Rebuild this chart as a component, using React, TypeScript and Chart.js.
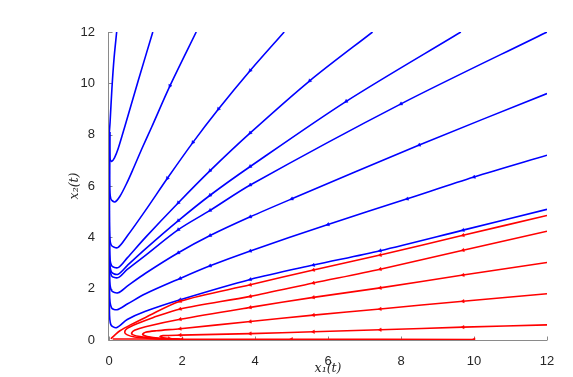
import React, { useEffect, useRef } from "react";
import { Chart, registerables } from "chart.js";

Chart.register(...registerables);

type Pt = [number, number];

// ---- tick labels / axis titles ----
const xTicks = [0, 2, 4, 6, 8, 10, 12];
const yTicks = [0, 2, 4, 6, 8, 10, 12];
const xLabel = "x₁(t)";
const yLabel = "x₂(t)";

// ---- blue trajectories (x1, x2) ----
const blue1: Pt[] = [[0.01, 8.1], [0.03, 8.5], [0.08, 9.8], [0.14, 11.0], [0.21, 12]];
const blue2: Pt[] = [[0.01, 8.1], [0.012, 7.6], [0.03, 7.05], [0.07, 6.96], [0.15, 7.1], [0.25, 7.45], [0.44, 8.35], [0.8, 10.1], [1.2, 12]];
const blue3: Pt[] = [[0.01, 8.1], [0.012, 6.2], [0.05, 5.5], [0.16, 5.38], [0.3, 5.6], [0.5, 6.15], [0.67, 6.69], [0.9, 7.45], [1.17, 8.3], [1.67, 9.9], [2.39, 12]];
const blue4: Pt[] = [[0.01, 8.1], [0.012, 4.3], [0.06, 3.7], [0.24, 3.6], [0.5, 4.05], [1.0, 5.05], [1.6, 6.3], [2.3, 7.7], [3.0, 9.0], [3.87, 10.5], [4.8, 12]];
const blue5: Pt[] = [[0.01, 8.1], [0.012, 3.5], [0.07, 2.9], [0.25, 2.82], [0.5, 3.2], [1.0, 4.0], [1.9, 5.35], [2.77, 6.6], [3.87, 8.07], [5.5, 10.1], [7.22, 12]];
const blue6: Pt[] = [[0.01, 8.1], [0.012, 3.2], [0.07, 2.64], [0.25, 2.56], [0.5, 2.9], [1.0, 3.55], [1.9, 4.65], [2.77, 5.64], [3.87, 6.76], [6.5, 9.3], [9.64, 12]];
const blue7: Pt[] = [[0.01, 8.1], [0.012, 3.1], [0.07, 2.5], [0.25, 2.43], [0.5, 2.75], [1.0, 3.3], [1.9, 4.3], [2.77, 5.05], [3.87, 6.04], [8.0, 9.2], [12, 12]];
const blue8: Pt[] = [[0.01, 8.1], [0.012, 2.5], [0.07, 1.92], [0.25, 1.84], [0.5, 2.1], [1.0, 2.6], [1.9, 3.4], [2.77, 4.07], [3.87, 4.8], [5.01, 5.5], [8.5, 7.6], [12, 9.6]];
const blue9: Pt[] = [[0.01, 8.1], [0.012, 1.8], [0.07, 1.25], [0.22, 1.18], [0.5, 1.4], [1.0, 1.8], [1.95, 2.4], [2.77, 2.89], [3.87, 3.47], [6.0, 4.5], [8.17, 5.5], [10.0, 6.35], [12, 7.2]];
const blue10: Pt[] = [[0.01, 8.1], [0.012, 1.2], [0.05, 0.6], [0.2, 0.48], [0.5, 0.8], [1.0, 1.12], [1.95, 1.57], [3.87, 2.36], [5.6, 2.92], [7.43, 3.48], [9.7, 4.28], [12, 5.09]];

// ---- red trajectories (x1, x2) ----
const red1: Pt[] = [[2.0, 0.02], [1.65, 0.06], [1.45, 0.1], [1.4, 0.14], [1.48, 0.17], [1.95, 0.19], [3.87, 0.25], [5.6, 0.32], [7.43, 0.4], [9.7, 0.5], [12, 0.59]];
const red2: Pt[] = [[1.95, 0.03], [1.4, 0.07], [1.05, 0.14], [0.92, 0.22], [1.0, 0.3], [1.3, 0.36], [1.95, 0.44], [3.87, 0.72], [5.6, 0.97], [7.43, 1.21], [9.7, 1.51], [12, 1.8]];
const red3: Pt[] = [[1.95, 0.03], [1.3, 0.07], [0.85, 0.13], [0.66, 0.2], [0.62, 0.27], [0.7, 0.38], [1.0, 0.52], [1.95, 0.81], [3.87, 1.27], [5.6, 1.66], [7.43, 2.03], [9.7, 2.53], [12, 3.02]];
const red4: Pt[] = [[1.9, 0.03], [1.2, 0.06], [0.7, 0.12], [0.5, 0.2], [0.43, 0.3], [0.5, 0.45], [0.8, 0.65], [1.2, 0.87], [1.95, 1.21], [3.87, 1.7], [5.6, 2.22], [7.43, 2.76], [9.7, 3.5], [12, 4.24]];
const red5: Pt[] = [[0.05, 0.05], [0.15, 0.18], [0.3, 0.36], [0.6, 0.6], [1.0, 0.88], [1.95, 1.51], [3.87, 2.15], [5.6, 2.73], [7.43, 3.31], [9.7, 4.08], [12, 4.85]];
const red6: Pt[] = [[0.1, 0.04], [1.0, 0.04], [2.0, 0.03], [5.0, 0.03], [10.0, 0.02]];

const blueCurves = [blue1, blue2, blue3, blue4, blue5, blue6, blue7, blue8, blue9, blue10];
const redCurves = [red1, red2, red3, red4, red5, red6];

const BLUE = "#0000ff";
const RED = "#ff0000";
const AXIS = "#8a8a8a";
const TEXT = "#262626";

const axesPlugin = {
  id: "matlabAxes",
  beforeDatasetsDraw(chart: any) {
    const { ctx, chartArea: a, scales } = chart;
    const xs = scales.x;
    const ys = scales.y;
    ctx.save();
    ctx.strokeStyle = AXIS;
    ctx.lineWidth = 1;
    ctx.beginPath();
    const lx = Math.round(a.left) - 0.5;
    const by = Math.round(a.bottom) + 0.5;
    ctx.moveTo(lx, a.top);
    ctx.lineTo(lx, by);
    ctx.lineTo(a.right, by);
    xTicks.forEach((v) => {
      const px = Math.round(xs.getPixelForValue(v)) + 0.5;
      ctx.moveTo(px, by);
      ctx.lineTo(px, by - 4);
    });
    yTicks.forEach((v) => {
      const py = Math.round(ys.getPixelForValue(v)) + 0.5;
      ctx.moveTo(lx, py);
      ctx.lineTo(lx + 4, py);
    });
    ctx.stroke();
    ctx.restore();
  },
};

export default function App() {
  const ref = useRef<HTMLCanvasElement | null>(null);

  useEffect(() => {
    document.body.style.margin = "0";
    const canvas = ref.current;
    if (!canvas) return;
    const arrowRadius = (c: any) => {
      const d = c.dataset.data;
      const p = d[c.dataIndex];
      if (!p || c.dataIndex === 0) return 0;
      return p.x > 1.5 && p.x < 11.8 && p.y < 11.8 ? 2 : 0;
    };
    const arrowRotation = (c: any) => {
      const d = c.dataset.data;
      const i = c.dataIndex;
      if (i === 0) return 0;
      const xs = c.chart.scales.x;
      const ys = c.chart.scales.y;
      const dx = xs.getPixelForValue(d[i - 1].x) - xs.getPixelForValue(d[i].x);
      const dy = ys.getPixelForValue(d[i - 1].y) - ys.getPixelForValue(d[i].y);
      return (Math.atan2(dy, dx) * 180) / Math.PI + 90;
    };
    const mk = (pts: Pt[], color: string) => ({
      data: pts.map(([x, y]) => ({ x, y })),
      borderColor: color,
      backgroundColor: color,
      borderWidth: 1.6,
      showLine: true,
      pointRadius: arrowRadius,
      pointStyle: "triangle",
      rotation: arrowRotation,
      pointBorderWidth: 0.5,
      tension: 0.3,
      fill: false,
    });
    const datasets = [
      ...redCurves.map((c) => mk(c, RED)),
      ...blueCurves.map((c) => mk(c, BLUE)),
    ];
    const chart = new Chart(canvas, {
      type: "scatter",
      data: { datasets },
      plugins: [axesPlugin],
      options: {
        animation: false,
        responsive: false,
        maintainAspectRatio: false,
        layout: { padding: { top: 32, right: 26, left: 0, bottom: 0 } },
        plugins: { legend: { display: false }, tooltip: { enabled: false } },
        scales: {
          x: {
            type: "linear",
            min: 0,
            max: 12,
            afterBuildTicks: (s: any) => {
              s.ticks = xTicks.map((v) => ({ value: v }));
            },
            afterFit: (s: any) => {
              s.height = 37;
            },
            grid: { display: false },
            border: { display: false },
            ticks: {
              padding: 6,
              color: TEXT,
              font: { family: "'Liberation Sans', Arial, sans-serif", size: 13 },
              maxRotation: 0,
            },
            title: {
              display: true,
              text: xLabel,
              color: TEXT,
              font: { family: "'DejaVu Serif', serif", size: 12.5, style: "italic" },
              padding: { top: 0, bottom: 1 },
            },
          },
          y: {
            type: "linear",
            min: 0,
            max: 12,
            afterBuildTicks: (s: any) => {
              s.ticks = yTicks.map((v) => ({ value: v }));
            },
            afterFit: (s: any) => {
              s.width = 109;
            },
            grid: { display: false },
            border: { display: false },
            ticks: {
              padding: 6,
              color: TEXT,
              font: { family: "'Liberation Sans', Arial, sans-serif", size: 13 },
            },
            title: {
              display: true,
              text: yLabel,
              color: TEXT,
              font: { family: "'DejaVu Serif', serif", size: 12.5, style: "italic" },
              padding: { top: 67, bottom: 0 },
            },
          },
        },
      },
    });
    return () => chart.destroy();
  }, []);

  return (
    <div style={{ position: "fixed", left: 0, top: 0, width: 573, height: 377, background: "#fff" }}>
      <canvas ref={ref} width={573} height={377} style={{ width: 573, height: 377, display: "block" }} />
    </div>
  );
}
